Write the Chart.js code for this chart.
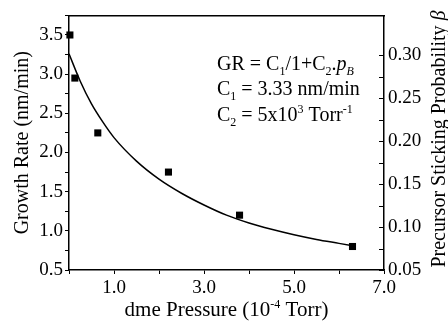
<!DOCTYPE html>
<html>
<head>
<meta charset="utf-8">
<script src="https://cdn.jsdelivr.net/npm/chart.js@4"></script>
<style>
  body { margin: 0; background: #fff; }
  #wrap { width: 448px; height: 321px; }
</style>
</head>
<body>
<div id="wrap"><canvas id="growthChart"></canvas></div>
<script>
// measured points (dme pressure in 1e-4 Torr, growth rate in nm/min)
const pressure = [0.02, 0.13, 0.64, 2.21, 3.79, 6.30];
const growthRate = [3.50, 2.95, 2.25, 1.75, 1.20, 0.80];

// fitted curve
const fitPressure = [0.0, 0.25, 0.5, 0.75, 1.0, 1.5, 2.0, 2.5, 3.0, 3.5, 4.0, 4.5, 5.0, 5.5, 6.0, 6.3];
const fitRate = [3.26, 2.91, 2.62, 2.39, 2.19, 1.89, 1.66, 1.48, 1.33, 1.20, 1.10, 1.02, 0.95, 0.89, 0.84, 0.81];

// labelled ticks
const xLabelled = [1, 3, 5, 7];
const rateLabelled = [0.5, 1.0, 1.5, 2.0, 2.5, 3.0, 3.5];
const betaLabelled = [0.05, 0.10, 0.15, 0.20, 0.25, 0.30];

const SERIF = 'Liberation Serif';
Chart.defaults.font.family = SERIF;
Chart.defaults.color = '#000';

function labelFor(list, digits) {
    return function(value) {
        const hit = list.some(v => Math.abs(v - value) < 1e-6);
        return hit ? value.toFixed(digits) : '';
    };
}

// draw a line of text made of runs: {t, size, dy, italic}
function drawRuns(ctx, runs, x, y, align) {
    const fontOf = r => (r.italic ? 'italic ' : '') + r.size + 'px "' + SERIF + '"';
    let total = 0;
    runs.forEach(r => { ctx.font = fontOf(r); total += ctx.measureText(r.t).width; });
    let cx = align === 'center' ? x - total / 2 : x;
    runs.forEach(r => {
        ctx.font = fontOf(r);
        ctx.fillText(r.t, cx, y + (r.dy || 0));
        cx += ctx.measureText(r.t).width;
    });
}

const textPlugin = {
    id: 'textPlugin',
    afterDraw(chart) {
        const ctx = chart.ctx;
        const yB = chart.scales.yB;
        ctx.save();
        // right axis ticks point inward
        ctx.strokeStyle = '#000';
        ctx.lineWidth = 1;
        yB.ticks.forEach(t => {
            const py = Math.round(yB.getPixelForValue(t.value)) + 0.5;
            ctx.beginPath();
            ctx.moveTo(yB.left - 5, py);
            ctx.lineTo(yB.left, py);
            ctx.stroke();
        });

        ctx.fillStyle = '#000';
        ctx.textBaseline = 'alphabetic';
        const area = chart.chartArea;
        const midY = (area.top + area.bottom) / 2;

        // x title
        drawRuns(ctx, [
            {t: 'dme Pressure (10', size: 21},
            {t: '-4', size: 12, dy: -8},
            {t: ' Torr)', size: 21}
        ], (area.left + area.right) / 2, 316, 'center');

        // left title
        ctx.save();
        ctx.translate(28, midY);
        ctx.rotate(-Math.PI / 2);
        drawRuns(ctx, [{t: 'Growth Rate (nm/min)', size: 20}], 0, 0, 'center');
        ctx.restore();

        // right title
        ctx.save();
        ctx.translate(445, 139);
        ctx.rotate(-Math.PI / 2);
        drawRuns(ctx, [
            {t: 'Precursor Sticking Probability ', size: 20},
            {t: 'β', size: 20, italic: true}
        ], 0, 0, 'center');
        ctx.restore();

        // fit annotation
        const ax = 217;
        drawRuns(ctx, [
            {t: 'GR = C', size: 20},
            {t: '1', size: 12, dy: 5},
            {t: '/1+C', size: 20},
            {t: '2', size: 12, dy: 5},
            {t: '.', size: 20},
            {t: 'p', size: 20, italic: true},
            {t: 'B', size: 12, dy: 5, italic: true}
        ], ax, 70, 'left');
        drawRuns(ctx, [
            {t: 'C', size: 20},
            {t: '1', size: 12, dy: 5},
            {t: ' = 3.33 nm/min', size: 20}
        ], ax, 95, 'left');
        drawRuns(ctx, [
            {t: 'C', size: 20},
            {t: '2', size: 12, dy: 5},
            {t: ' = 5x10', size: 20},
            {t: '3', size: 12, dy: -8},
            {t: ' Torr', size: 20},
            {t: '-1', size: 12, dy: -8}
        ], ax, 121, 'left');
        ctx.restore();
    }
};

const axisLine = {color: '#000', width: 1.5};
const tickFont = {family: SERIF, size: 19};

const ctx = document.getElementById('growthChart').getContext('2d');
new Chart(ctx, {
    type: 'scatter',
    data: {
        datasets: [{
            label: 'measured',
            data: pressure.map((p, i) => ({x: p, y: growthRate[i]})),
            pointStyle: 'rect',
            pointRadius: 5,
            backgroundColor: '#000',
            borderColor: '#000',
            borderWidth: 0,
            showLine: false,
            clip: false
        }, {
            label: 'fit',
            data: fitPressure.map((p, i) => ({x: p, y: fitRate[i]})),
            showLine: true,
            pointRadius: 0,
            borderColor: '#000',
            borderWidth: 1.5,
            cubicInterpolationMode: 'monotone'
        }]
    },
    options: {
        responsive: true,
        maintainAspectRatio: false,
        animation: false,
        layout: {padding: 0},
        plugins: {legend: {display: false}, tooltip: {enabled: false}},
        scales: {
            x: {
                type: 'linear', position: 'bottom', min: 0, max: 7,
                ticks: {stepSize: 1, autoSkip: false, maxRotation: 0, padding: 3,
                        font: tickFont, callback: labelFor(xLabelled, 1)},
                grid: {drawOnChartArea: false, tickLength: 4, color: '#000'},
                border: axisLine,
                afterFit: s => { s.height = 51; }
            },
            xTop: {
                type: 'linear', position: 'top', min: 0, max: 7,
                ticks: {display: false},
                grid: {drawOnChartArea: false, drawTicks: false},
                border: axisLine,
                afterFit: s => { s.height = 13; }
            },
            y: {
                position: 'left', min: 0.5, max: 3.75,
                ticks: {stepSize: 0.25, autoSkip: false, padding: 2,
                        font: tickFont, callback: labelFor(rateLabelled, 1)},
                grid: {drawOnChartArea: false, tickLength: 4, color: '#000'},
                border: axisLine,
                afterFit: s => { s.width = 69; }
            },
            yB: {
                position: 'right', min: 0.05, max: 0.3462,
                ticks: {stepSize: 0.025, autoSkip: false, padding: 4,
                        font: tickFont, callback: labelFor(betaLabelled, 2)},
                grid: {drawOnChartArea: false, drawTicks: false},
                border: axisLine,
                afterFit: s => { s.width = 64; }
            }
        }
    },
    plugins: [textPlugin]
});
</script>
</body>
</html>
